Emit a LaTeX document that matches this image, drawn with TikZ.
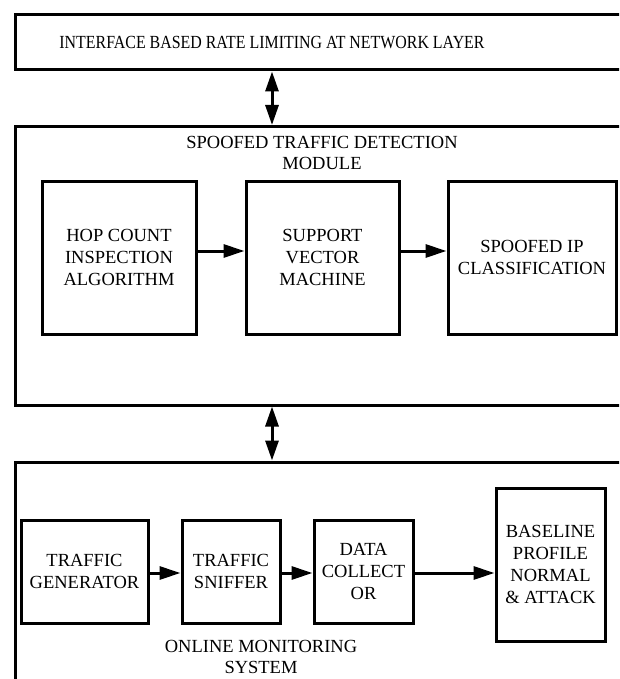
\documentclass[tikz,border=0pt]{standalone}
\usepackage{graphicx}
\usepackage{fontspec}
\setmainfont{Liberation Serif}
\usetikzlibrary{arrows.meta}

\tikzset{
  frame/.style={draw, line width=3pt, rectangle, inner sep=0pt, anchor=north west},
  block/.style={draw, line width=3pt, rectangle, inner sep=0pt, align=center,
    font=\fontsize{18.5}{22}\selectfont},
  caption/.style={align=center, inner sep=0pt, font=\fontsize{18.5}{21}\selectfont},
  flow/.style={line width=3pt, -{Triangle[length=21pt,width=13pt]}},
  updown/.style={line width=3pt, {Triangle[length=20pt,width=13pt]}-{Triangle[length=20pt,width=13pt]}},
}

\begin{document}
\begin{tikzpicture}[x=1pt,y=-1pt]
  \useasboundingbox (0,0) rectangle (619,679);
  \clip (0,0) rectangle (619,679);

  % three stacked layers (they run past the right and bottom edges)
  \node[frame, minimum width=627pt, minimum height=55pt] (layer) at (13.5,13.5) {};
  \node[font=\fontsize{18.5}{22}\selectfont] (layertxt) at (272,43)
    {\scalebox{0.86}[1]{INTERFACE BASED RATE LIMITING AT NETWORK LAYER}};

  \node[frame, minimum width=627pt, minimum height=278.5pt] (detect) at (13.5,125) {};
  \node[caption] (detecttxt) at (322,153) {SPOOFED TRAFFIC DETECTION\\MODULE};

  \node[frame, minimum width=627pt, minimum height=260pt] (monitor) at (13.5,460.5) {};
  \node[caption] (monitortxt) at (261,657) {ONLINE MONITORING\\SYSTEM};

  % links between layers
  \coordinate (axis) at (272,0);
  \draw[updown] (layer.south -| axis) -- (detect.north -| axis);
  \draw[updown] (detect.south -| axis) -- (monitor.north -| axis);

  % detection module blocks
  \node[block, minimum width=154pt, minimum height=153pt] (hop) at (119,257.5)
    {HOP COUNT\\INSPECTION\\ALGORITHM};
  \node[block, minimum width=153pt, minimum height=153pt] (svm) at (322.5,257.5)
    {SUPPORT\\VECTOR\\MACHINE};
  \node[block, minimum width=168pt, minimum height=153pt] (cls) at (532,257.5)
    {SPOOFED IP\\CLASSIFICATION};

  \draw[flow] (hop.east |- 0,251) -- (svm.west |- 0,251);
  \draw[flow] (svm.east |- 0,251) -- (cls.west |- 0,251);

  % monitoring blocks
  \node[block, minimum width=127pt, minimum height=103pt] (gen) at (84.5,571.5)
    {TRAFFIC\\GENERATOR};
  \node[block, minimum width=98pt, minimum height=103pt] (sniff) at (231,571.5)
    {TRAFFIC\\SNIFFER};
  \node[block, minimum width=99pt, minimum height=103pt] (coll) at (363.5,571.5)
    {DATA\\COLLECT\\OR};
  \node[block, minimum width=109pt, minimum height=153pt] (base) at (550.5,564.5)
    {BASELINE\\PROFILE\\NORMAL\\\& ATTACK};

  \draw[flow] (gen.east |- 0,573) -- (sniff.west |- 0,573);
  \draw[flow] (sniff.east |- 0,573) -- (coll.west |- 0,573);
  \draw[flow] (coll.east |- 0,573) -- (base.west |- 0,573);
\end{tikzpicture}
\end{document}
